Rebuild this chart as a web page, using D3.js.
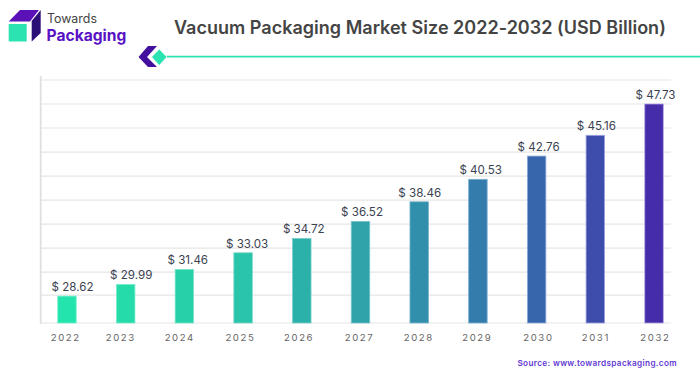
<!DOCTYPE html>
<html><head><meta charset="utf-8">
<script src="https://cdn.jsdelivr.net/npm/d3@7"></script>
<style>html,body{margin:0;padding:0;background:#fff}svg{display:block}text{font-family:Inter,"Noto Sans",sans-serif}</style>
</head><body><svg id="c" width="700" height="375"></svg>
<script>
const years = ["2022","2023","2024","2025","2026","2027","2028","2029","2030","2031","2032"];
const valueLabels = ["$ 28.62","$ 29.99","$ 31.46","$ 33.03","$ 34.72","$ 36.52","$ 38.46","$ 40.53","$ 42.76","$ 45.16","$ 47.73"];
// bar heights as read against the picture's unlabelled gridlines
const barLevels = [27.5,28.72,30.28,32.01,33.51,35.28,37.32,39.66,42.08,44.24,47.5];
const gridLevels = [24.7,27.6,30,32.5,35,37.5,40,42.5,45,47.5,50];
const barColors = ["#22e4ac","#25dba9","#27d0a9","#29c4a9","#2bb0aa","#2ea4aa","#3090ab","#337cab","#3866ac","#3e4dab","#452ca9"];
const edgeColors = ["#7af0cd","#7aecca","#7ae6c9","#7ad8c9","#7ad0cc","#7ac4cc","#7ab4cc","#7ab0d4","#8ea8dc","#9ca4e0","#b0a4e4"];
// the reference's labels sit slightly off their bars
const valueNudge = [5.5,5.5,3.4,4,2,1.5,0.5,2.8,2,1,1.5];
const yearNudge = [-2,-5.7,-5.4,-3.5,-3.5,-1.8,-1.2,-1.4,1,-0.3,0.5];

const svg = d3.select("#c");
const plotLeft = 41, plotRight = 671, plotTop = 80, plotBottom = 323;
const x = d3.scaleBand().domain(years).range([38, 683]).paddingInner(0.685).paddingOuter(0.336);
const y = d3.scaleLinear().domain([24.7, 50]).range([plotBottom, plotTop]);

// gridlines
svg.append("g").selectAll("line").data(gridLevels).join("line")
  .attr("x1", plotLeft).attr("x2", plotRight).attr("y1", d => y(d)).attr("y2", d => y(d))
  .attr("stroke", "#e6e6e6").attr("stroke-width", 1.2);
svg.append("line").attr("x1", plotLeft-0.3).attr("x2", plotLeft-0.3).attr("y1", 76).attr("y2", plotBottom+1)
  .attr("stroke", "#e0e0e0").attr("stroke-width", 1.8);

// bars
svg.append("g").selectAll("rect").data(years).join("rect")
  .attr("x", d => x(d)).attr("width", x.bandwidth())
  .attr("y", (d,i) => y(barLevels[i])).attr("height", (d,i) => plotBottom - y(barLevels[i]))
  .attr("fill", (d,i) => barColors[i]).attr("stroke", (d,i) => edgeColors[i]).attr("stroke-width", 0.8);

// value labels
svg.append("g").selectAll("text").data(years).join("text")
  .attr("x", (d,i) => x(d) + x.bandwidth()/2 + valueNudge[i]).attr("y", (d,i) => y(barLevels[i]) - 5)
  .attr("text-anchor", "middle").attr("font-size", 11.6).attr("fill", "#3a4252")
  .text((d,i) => valueLabels[i]);

// year labels
svg.append("g").selectAll("text").data(years).join("text")
  .attr("x", (d,i) => x(d) + x.bandwidth()/2 + yearNudge[i] + 0.8).attr("y", 341)
  .attr("text-anchor", "middle").attr("font-size", 9.6).attr("letter-spacing", 1.6).attr("fill", "#666")
  .text(d => d);

// title
svg.append("text").attr("x", 174).attr("y", 34)
  .attr("font-size", 18).attr("font-weight", 600).attr("letter-spacing", 0.02).attr("fill", "#444")
  .text("Vacuum Packaging Market Size 2022-2032 (USD Billion)");

// source
svg.append("text").attr("x", 677).attr("y", 365.5).attr("text-anchor", "end")
  .attr("font-size", 8.2).attr("font-weight", 600).attr("letter-spacing", 0.35).attr("fill", "#5f38d4")
  .text("Source: www.towardspackaging.com");

// logo
const logo = svg.append("g");
logo.append("rect").attr("x", 8.7).attr("y", 24).attr("width", 18).attr("height", 17.5).attr("fill", "#2ae3b0");
logo.append("path").attr("d", "M8.7 21.5 L20 10 L39 10 L30 21.5 Z").attr("fill", "#5a12b8");
logo.append("path").attr("d", "M31.7 21 L40.7 10 L40.7 33 L31.7 41.5 Z").attr("fill", "#2d0f78");
logo.append("text").attr("x", 47).attr("y", 22.5).attr("font-size", 12.4).attr("fill", "#444").text("Towards");
logo.append("text").attr("x", 46.5).attr("y", 41).attr("font-size", 15.6).attr("font-weight", 700).attr("fill", "#5a12c4").text("Packaging");

// ornament
svg.append("path").attr("d", "M138.5 57 L148 46 L157 46 L147 57 L157 67 L148 67 Z").attr("fill", "#43109e");
svg.append("line").attr("x1", 165).attr("x2", 700).attr("y1", 56.7).attr("y2", 56.7).attr("stroke", "#2ae3b0").attr("stroke-width", 1.8);
svg.append("path").attr("d", "M151.5 57 L159.3 49 L167 57 L159.3 65.5 Z").attr("fill", "#2ae3b0").attr("stroke", "#fff").attr("stroke-width", 0.8);
</script></body></html>
